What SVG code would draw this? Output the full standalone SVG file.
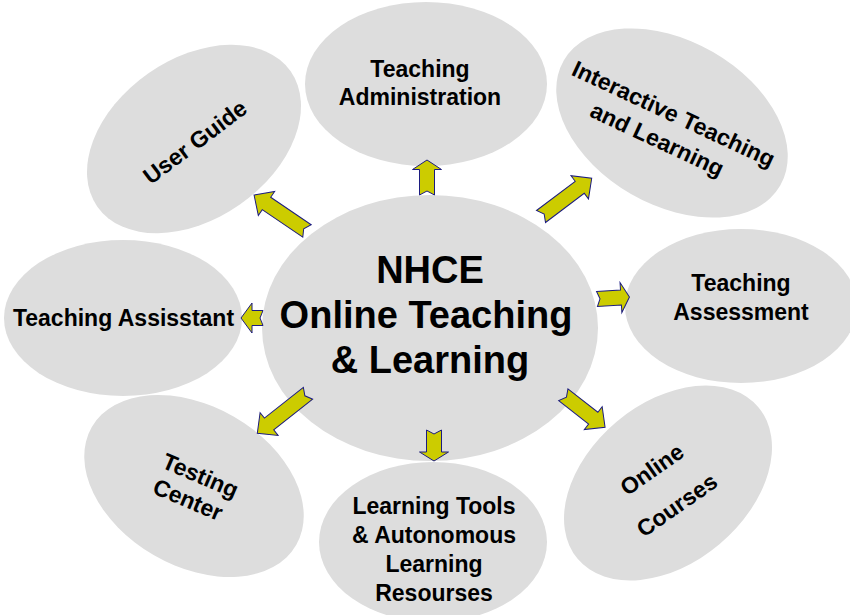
<svg xmlns="http://www.w3.org/2000/svg" width="850" height="615" viewBox="0 0 850 615">
<style>
.n{fill:#dddddd;stroke:none}
.t{font-family:"Liberation Sans",Arial,sans-serif;font-weight:bold;font-size:23px;fill:#000;text-anchor:middle}
.c{font-size:38px}
.a{fill:#cccc00;stroke:#1c1c80;stroke-width:1;stroke-linejoin:miter}
</style>
<rect width="850" height="615" fill="#fff"/>
<g id="admin"><ellipse class="n" cx="426" cy="84" rx="121" ry="82"/>
<text class="t" x="420" y="77">Teaching</text><text class="t" x="420" y="105">Administration</text></g>
<g id="interactive"><ellipse class="n" cx="0" cy="0" rx="125" ry="82" transform="translate(672,123) rotate(30)"/>
<g transform="translate(665,127.5) rotate(25)"><text class="t" x="2" y="-8">Interactive Teaching</text><text class="t" x="-2" y="22">and Learning</text></g></g>
<g id="userguide"><ellipse class="n" cx="0" cy="0" rx="118" ry="80" transform="translate(194,139) rotate(-35)"/>
<text class="t" x="0" y="8" transform="translate(195,142) rotate(-37)">User Guide</text></g>
<g id="assistant"><ellipse class="n" cx="123" cy="318" rx="119" ry="78"/>
<text class="t" x="123.5" y="326">Teaching Assisstant</text></g>
<g id="assessment"><ellipse class="n" cx="741" cy="306" rx="116" ry="77"/>
<text class="t" x="741" y="291">Teaching</text><text class="t" x="741" y="320">Assessment</text></g>
<g id="testing"><ellipse class="n" cx="0" cy="0" rx="118" ry="80" transform="translate(194,486) rotate(30)"/>
<g transform="translate(194,488) rotate(23)"><text class="t" x="1" y="-6">Testing</text><text class="t" x="-1" y="21">Center</text></g></g>
<g id="tools"><ellipse class="n" cx="433" cy="542" rx="114" ry="80"/>
<text class="t" x="434" y="514">Learning Tools</text><text class="t" x="434" y="543">&amp; Autonomous</text><text class="t" x="434" y="572">Learning</text><text class="t" x="434" y="601">Resourses</text></g>
<g id="courses"><ellipse class="n" cx="0" cy="0" rx="118" ry="80" transform="translate(668,483) rotate(-40)"/>
<g transform="translate(664.5,487.5) rotate(-35)"><text class="t" x="0" y="-14">Online</text><text class="t" x="0" y="29.5">Courses</text></g></g>
<g id="center"><ellipse class="n" cx="430" cy="328" rx="168" ry="133"/>
<text class="t c" x="430" y="283">NHCE</text><text class="t c" x="426" y="328">Online Teaching</text><text class="t c" x="430" y="373">&amp; Learning</text></g>
<g id="connectors">
<polygon class="a" transform="translate(427,195) rotate(-90)" points="0,-7.5 25.5,-7.5 25.5,-14.5 35,0 25.5,14.5 25.5,7.5 0,7.5 4,0"/>
<polygon class="a" transform="translate(307,231) rotate(-145.8)" points="0,-7.5 49,-7.5 49,-14.5 64,0 49,14.5 49,7.5 0,7.5 4,0"/>
<polygon class="a" transform="translate(541,216.5) rotate(-37)" points="0,-7.5 48.5,-7.5 48.5,-14.5 63.5,0 48.5,14.5 48.5,7.5 0,7.5 4,0"/>
<polygon class="a" transform="translate(597,299) rotate(-3.5)" points="0,-7.5 24,-7.5 24,-15 32.5,0 24,15 24,7.5 0,7.5 3,0"/>
<polygon class="a" transform="translate(263,318) rotate(180)" points="0,-7.5 11,-7.5 11,-15 22,0 11,15 11,7.5 0,7.5 3,0"/>
<polygon class="a" transform="translate(308,393.3) rotate(141.7)" points="0,-7.5 49.6,-7.5 49.6,-14.5 64.6,0 49.6,14.5 49.6,7.5 0,7.5 4,0"/>
<polygon class="a" transform="translate(434,430) rotate(90)" points="0,-7.5 22,-7.5 22,-14.5 31,0 22,14.5 22,7.5 0,7.5 4,0"/>
<polygon class="a" transform="translate(563.3,394.7) rotate(38)" points="0,-7.5 38,-7.5 38,-14.5 53,0 38,14.5 38,7.5 0,7.5 4,0"/>
</g>
</svg>
